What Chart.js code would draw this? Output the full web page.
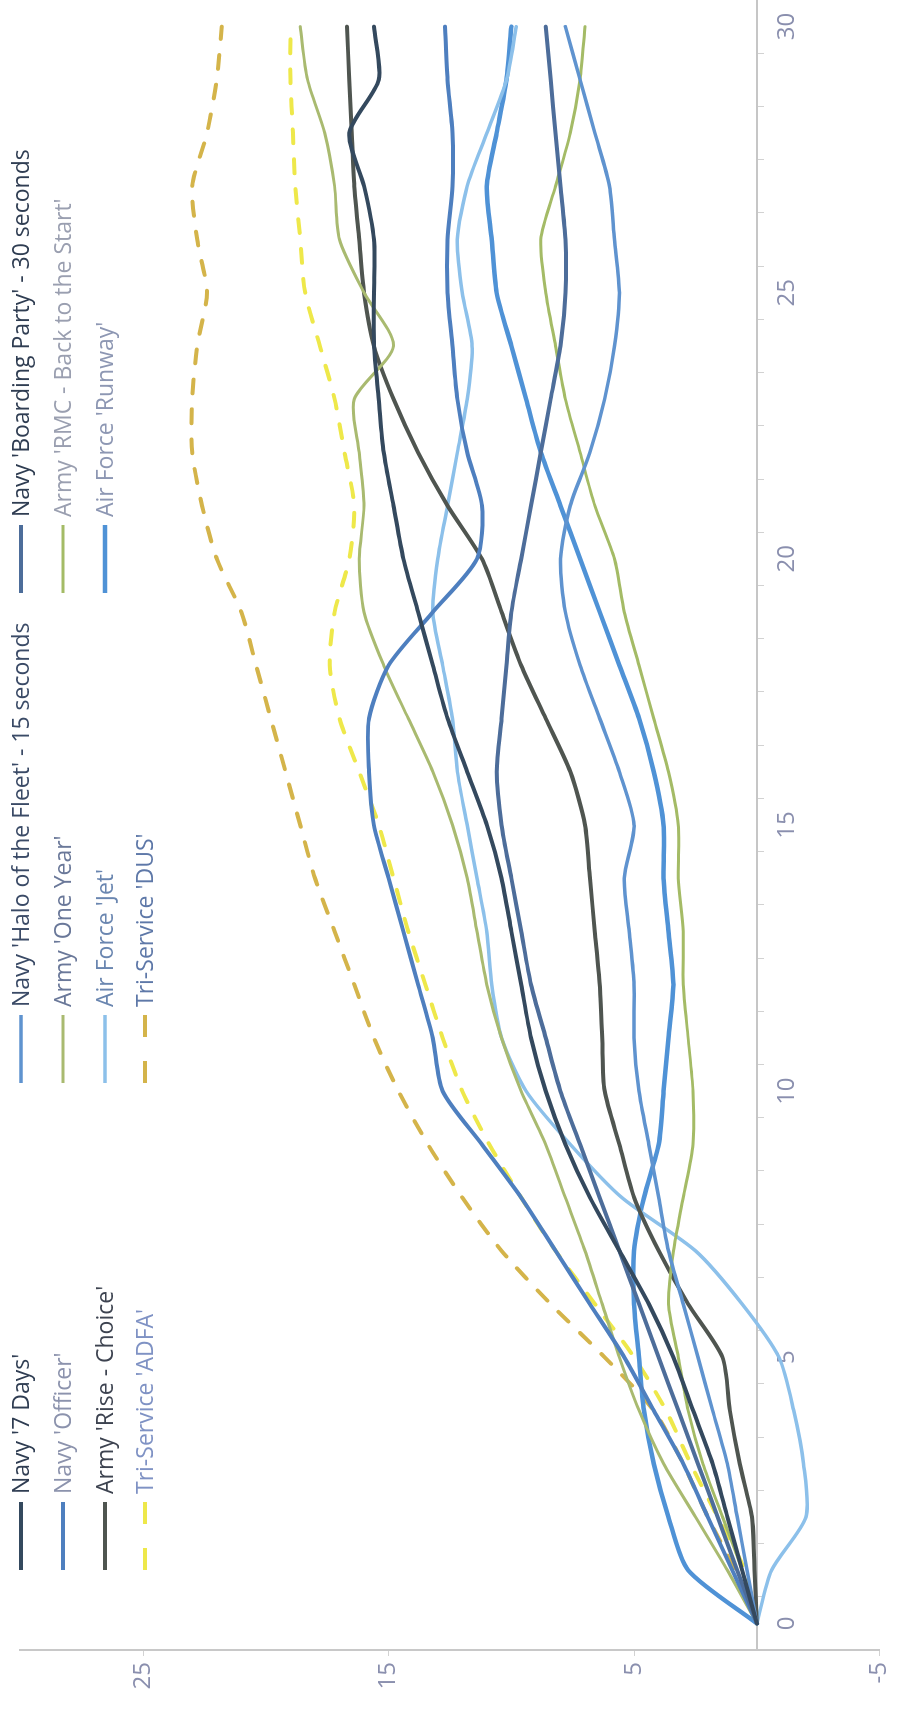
<!DOCTYPE html>
<html>
<head>
<meta charset="utf-8">
<script src="https://cdn.jsdelivr.net/npm/chart.js@4.4.0/dist/chart.umd.min.js"></script>
<style>
html, body { margin: 0; padding: 0; background: #fff; overflow: hidden; }
#wrap { position: absolute; left: 0; top: 0; width: 1711px; height: 900px; transform-origin: 0 0; transform: translateY(1711px) rotate(-90deg); }
</style>
</head>
<body>
<div id="wrap"><canvas id="chart" width="1711" height="900"></canvas></div>
<script>
// categories 0..30, value axis -5..30
var days = ['0','1','2','3','4','5','6','7','8','9','10','11','12','13','14','15','16','17','18','19','20','21','22','23','24','25','26','27','28','29','30'];
var valueTicks = [-5, 5, 15, 25];

var navy7Days    = [0,0.6,1.2,1.8,2.6,3.4,4.4,5.6,6.8,7.8,8.6,9.2,9.6,10.0,10.4,11.0,11.8,12.6,13.2,13.8,14.4,14.8,15.2,15.4,15.6,15.6,15.6,16.0,16.6,15.4,15.6];
var navyHalo     = [0,0.4,0.8,1.2,1.8,2.4,3.0,3.6,4.0,4.4,4.8,5.0,5.0,5.2,5.4,5.0,5.6,6.4,7.2,7.8,8.0,7.6,6.8,6.2,5.8,5.6,5.8,6.0,6.6,7.2,7.8];
var navyBoarding = [0,0.8,1.6,2.4,3.2,4.0,4.8,5.6,6.4,7.2,8.0,8.6,9.2,9.6,10.0,10.4,10.6,10.4,10.2,10.0,9.6,9.2,8.8,8.4,8.0,7.8,7.8,8.0,8.2,8.4,8.6];
var navyOfficer  = [0,1.0,2.0,3.0,4.2,5.4,6.8,8.2,9.6,11.2,12.8,13.2,13.8,14.4,15.0,15.6,15.8,15.8,15.0,13.2,11.4,11.2,11.8,12.2,12.4,12.6,12.6,12.4,12.4,12.6,12.7];
var armyOneYear  = [0,1.2,2.5,3.8,4.8,5.6,6.3,7.0,7.8,8.6,9.6,10.4,11.0,11.4,11.8,12.4,13.2,14.2,15.2,16.0,16.2,16.0,16.2,16.4,14.8,16.0,17.0,17.2,17.6,18.3,18.6];
var armyRmc      = [0,0.6,1.4,2.2,2.8,3.2,3.6,3.4,3.0,2.6,2.6,2.8,3.0,3.0,3.2,3.2,3.6,4.2,4.8,5.4,5.8,6.6,7.2,7.8,8.2,8.6,8.8,8.2,7.6,7.2,7.0];
var armyRise     = [0,0.1,0.2,0.7,1.1,1.4,2.8,4.0,5.0,5.6,6.2,6.3,6.4,6.6,6.8,7.0,7.6,8.6,9.6,10.4,11.2,12.6,13.8,14.8,15.6,16.0,16.2,16.4,16.5,16.6,16.7];
var afJet        = [0,-0.6,-2.0,-1.9,-1.5,-0.9,0.6,2.5,5.5,7.6,9.4,10.4,10.8,11.0,11.4,11.8,12.2,12.4,12.8,13.2,13.0,12.6,12.2,11.8,11.6,12.0,12.2,11.8,11.0,10.2,9.8];
var afRunway     = [0,2.8,3.6,4.2,4.6,4.8,5.0,5.0,4.6,4.0,3.8,3.6,3.4,3.6,3.8,3.8,4.2,4.8,5.6,6.4,7.2,8.0,8.8,9.4,10.0,10.6,10.8,11.0,10.6,10.2,10.0];
var triAdfa      = [0,0.5,1.6,2.7,3.7,5.0,6.6,8.2,9.6,10.9,12.0,12.8,13.5,14.2,14.8,15.4,16.2,17.0,17.4,17.2,16.6,16.4,16.8,17.2,17.8,18.4,18.6,18.8,18.9,19.0,19.0];
var triDus       = [0,0.9,2.0,3.0,4.2,6.2,8.4,10.4,12.0,13.4,14.6,15.6,16.4,17.2,18.0,18.6,19.2,19.8,20.4,21.0,22.0,22.6,23.0,23.0,22.8,22.4,22.8,23.0,22.4,22.0,21.8];

var seriesNames = ["Navy '7 Days'", "Navy 'Halo of the Fleet' - 15 seconds", "Navy 'Boarding Party' - 30 seconds",
                   "Navy 'Officer'", "Army 'One Year'", "Army 'RMC - Back to the Start'",
                   "Army 'Rise - Choice'", "Air Force 'Jet'", "Air Force 'Runway'",
                   "Tri-Service 'ADFA'", "Tri-Service 'DUS'"];
var seriesData = [navy7Days, navyHalo, navyBoarding, navyOfficer, armyOneYear, armyRmc, armyRise, afJet, afRunway, triAdfa, triDus];
var lineColors = ["#34495e", "#5f93cf", "#4d6d9a", "#4e7fbf", "#a9ba70", "#a4bb66", "#4f5550", "#8cc0ea", "#4f92d6", "#eee84a", "#d4b44a"];
var lineWidths = [4, 3.5, 4, 4, 3, 3, 4, 3.5, 4.5, 4, 4];
var lineDash = [[], [], [], [], [], [], [], [], [], [14, 16], [14, 16]];
var legendText = ["#2f3d52", "#3a4a66", "#2f3d52", "#8c93ad", "#6a7899", "#9a9fb0", "#3d4350", "#6a86b0", "#8d97b3", "#7f92c4", "#5e78a8"];

var datasets = [];
for (var i = 0; i < seriesData.length; i++) {
    datasets.push({
        label: seriesNames[i],
        data: seriesData[i],
        borderColor: lineColors[i],
        backgroundColor: lineColors[i],
        borderWidth: lineWidths[i],
        borderDash: lineDash[i],
        fill: false
    });
}

// legend drawn in 3 columns x 4 rows over the top of the plot
var legendCols = [141, 628, 1118];
var legendRows = [21, 63, 105, 145];
var gridLegend = {
    id: 'gridLegend',
    afterDraw: function (chart) {
        var ctx = chart.ctx;
        ctx.save();
        ctx.font = "23px 'Open Sans'";
        ctx.textBaseline = 'middle';
        chart.data.datasets.forEach(function (ds, i) {
            var x = legendCols[i % 3];
            var y = legendRows[Math.floor(i / 3)];
            ctx.strokeStyle = ds.borderColor;
            ctx.lineWidth = ds.borderWidth;
            ctx.setLineDash(ds.borderDash.length ? [22, 24] : []);
            ctx.beginPath();
            ctx.moveTo(x, y);
            ctx.lineTo(x + 68, y);
            ctx.stroke();
            ctx.setLineDash([]);
            ctx.fillStyle = legendText[i];
            ctx.fillText(ds.label, x + 76, y + 1);
        });
        ctx.restore();
    }
};

var ctx = document.getElementById('chart').getContext('2d');
var myChart = new Chart(ctx, {
    type: 'line',
    data: { labels: days, datasets: datasets },
    options: {
        responsive: false,
        animation: false,
        devicePixelRatio: 1,
        layout: { padding: { top: 13, bottom: 12, left: 0, right: 0 } },
        plugins: { legend: { display: false }, tooltip: { enabled: false } },
        elements: {
            point: { radius: 0 },
            line: { tension: 0.25, borderCapStyle: 'round', borderJoinStyle: 'round' }
        },
        scales: {
            x: {
                type: 'category',
                offset: true,
                position: { y: 0 },
                grid: { display: true, drawOnChartArea: false, tickLength: 6, color: '#d2d2d2', offset: true },
                border: { color: '#c6c6c6', width: 2 },
                ticks: {
                    autoSkip: false,
                    maxRotation: 0,
                    padding: 10,
                    color: '#8a8fae',
                    font: { family: 'Open Sans', size: 24 },
                    callback: function (v, i) { return i % 5 === 0 ? this.getLabelForValue(v) : ''; }
                }
            },
            y: {
                min: -5,
                max: 30,
                afterFit: function (s) { s.width = 61; },
                afterBuildTicks: function (s) { s.ticks = valueTicks.map(function (v) { return { value: v }; }); },
                grid: { drawOnChartArea: false, tickLength: 6, color: '#d2d2d2' },
                border: { color: '#c8c8c8', width: 2 },
                ticks: { padding: 6, color: '#8a8fae', font: { family: 'Open Sans', size: 24 } }
            }
        }
    },
    plugins: [gridLegend]
});
</script>
</body>
</html>
